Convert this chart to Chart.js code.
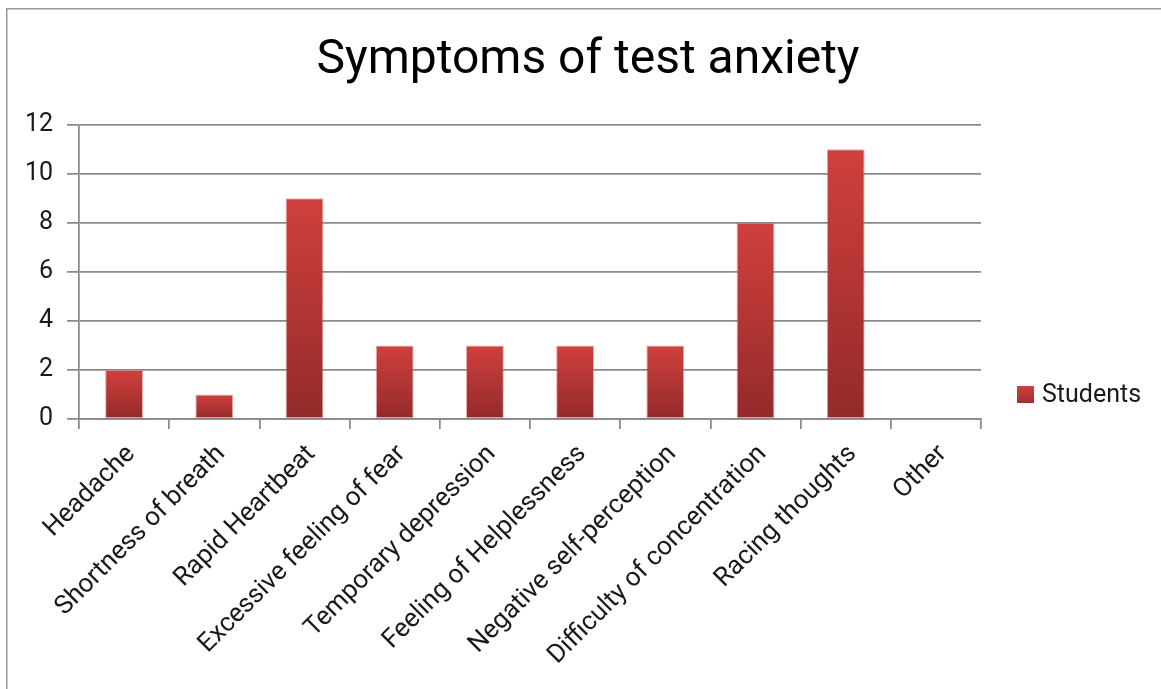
<!DOCTYPE html>
<html>
<head>
<meta charset="utf-8">
<script src="https://cdn.jsdelivr.net/npm/chart.js@4.4.1/dist/chart.umd.min.js"></script>
<style>
  html, body { margin: 0; padding: 0; background: #ffffff; }
  canvas { display: block; }
</style>
</head>
<body>
<canvas id="chart" width="1161" height="689"></canvas>
<script>
// Survey data: how many students reported each symptom
const categories = [
  'Headache',
  'Shortness of breath',
  'Rapid Heartbeat',
  'Excessive feeling of fear',
  'Temporary depression',
  'Feeling of Helplessness',
  'Negative self-perception',
  'Difficulty of concentration',
  'Racing thoughts',
  'Other'
];
const students = [2, 1, 9, 3, 3, 3, 3, 8, 11, 0];
const yTickValues = [0, 2, 4, 6, 8, 10, 12];
const seriesName = 'Students';
const chartTitle = 'Symptoms of test anxiety';

const BAR_TOP = '#d0403d';
const BAR_BOTTOM = '#932a2a';
const TEXT = '#1a1a1a';
const GRID = '#8a8a8a';
const FONT = 'Roboto';

// vertical red gradient, computed per bar from its own top and base
function barFill(ctx) {
  const chart = ctx.chart;
  const area = chart.chartArea;
  if (!area || ctx.type !== 'data') return BAR_TOP;
  const y = chart.scales.y;
  const top = y.getPixelForValue(ctx.raw);
  const base = y.getPixelForValue(0);
  if (base - top < 1) return BAR_TOP;
  const g = chart.ctx.createLinearGradient(0, top, 0, base);
  g.addColorStop(0, BAR_TOP);
  g.addColorStop(1, BAR_BOTTOM);
  return g;
}

// thin frame along the top and left edges
const framePlugin = {
  id: 'frame',
  beforeDraw(chart) {
    const c = chart.ctx;
    c.save();
    c.fillStyle = '#ffffff';
    c.fillRect(0, 0, chart.width, chart.height);
    c.strokeStyle = '#9a9a9a';
    c.lineWidth = 1.5;
    c.beginPath();
    c.moveTo(6.75, chart.height);
    c.lineTo(6.75, 8.75);
    c.lineTo(chart.width, 8.75);
    c.stroke();
    c.restore();
  }
};

// single-entry legend to the right of the plot
const sideLegend = {
  id: 'sideLegend',
  afterDraw(chart) {
    const c = chart.ctx;
    const area = chart.chartArea;
    const ds = chart.data.datasets[0];
    const x = area.right + 36;
    const y = 386;
    const size = 17;
    c.save();
    const g = c.createLinearGradient(0, y, 0, y + size);
    g.addColorStop(0, '#cf3f3d');
    g.addColorStop(1, '#a22f2f');
    c.fillStyle = g;
    c.fillRect(x, y, size, size);
    c.fillStyle = TEXT;
    c.font = '25px ' + FONT;
    c.textAlign = 'left';
    c.textBaseline = 'middle';
    c.fillText(ds.label, x + size + 8, y + size / 2 + 1);
    c.restore();
  }
};

new Chart(document.getElementById('chart'), {
  type: 'bar',
  data: {
    labels: categories,
    datasets: [{
      label: seriesName,
      data: students,
      backgroundColor: barFill,
      borderColor: 'rgba(215, 110, 105, 0.55)',
      borderWidth: 1,
      borderSkipped: false,
      barPercentage: 0.42,
      categoryPercentage: 1.0
    }]
  },
  options: {
    responsive: false,
    devicePixelRatio: 1,
    animation: false,
    layout: { padding: { left: 15, right: 0, top: 0, bottom: 0 } },
    plugins: {
      legend: { display: false },
      tooltip: { enabled: false },
      title: {
        display: true,
        text: chartTitle,
        color: '#000000',
        font: { family: FONT, size: 48, weight: 'normal', lineHeight: 1.2 },
        padding: { top: 32, bottom: 35 }
      }
    },
    scales: {
      x: {
        grid: {
          display: true,
          drawOnChartArea: false,
          drawTicks: true,
          tickLength: 10,
          color: GRID,
          lineWidth: 1.75,
          offset: true
        },
        border: { display: true, color: GRID, width: 1.75 },
        ticks: {
          autoSkip: false,
          maxRotation: 45,
          minRotation: 45,
          padding: 10,
          labelOffset: 7,
          color: TEXT,
          font: { family: FONT, size: 26 }
        },
        afterFit(scale) { scale.height = 270; }
      },
      y: {
        min: 0,
        max: 12,
        grid: {
          color: GRID,
          lineWidth: 1.75,
          drawTicks: true,
          tickLength: 12
        },
        border: { display: true, color: GRID, width: 1.75 },
        ticks: {
          padding: 14,
          color: TEXT,
          font: { family: FONT, size: 25 }
        },
        afterBuildTicks(scale) {
          scale.ticks = yTickValues.map(v => ({ value: v }));
        },
        afterFit(scale) { scale.width = 64; }
      },
      legendSpace: {
        position: 'right',
        display: true,
        grid: { display: false },
        border: { display: false },
        ticks: { display: false },
        afterFit(scale) { scale.width = 180; }
      }
    }
  },
  plugins: [framePlugin, sideLegend]
});
</script>
</body>
</html>
